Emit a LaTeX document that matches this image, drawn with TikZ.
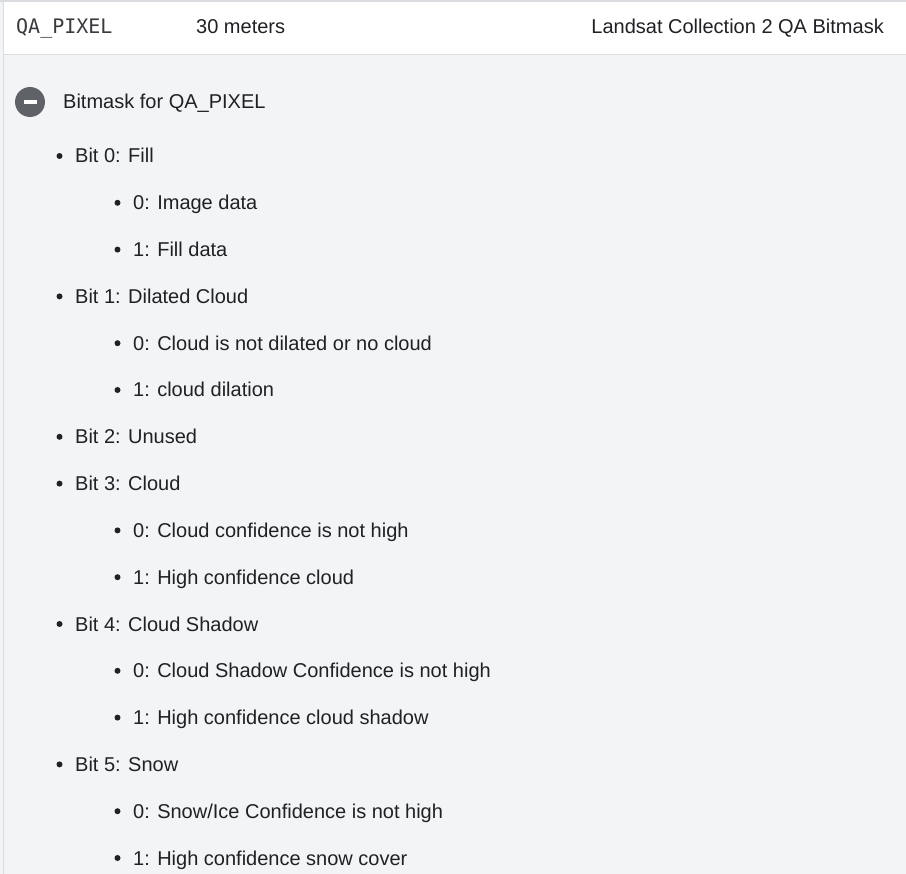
\documentclass[tikz,border=0pt]{standalone}
\usepackage{fontspec}
\setmainfont{Liberation Sans}
\setmonofont{DejaVu Sans Mono}
\definecolor{txt}{HTML}{202124}
\definecolor{panel}{HTML}{F3F4F6}
\definecolor{rule}{HTML}{DADCE0}
\definecolor{icon}{HTML}{5F6368}
\tikzset{
  item/.style={anchor=base west,inner sep=0pt,text=txt,font=\fontsize{20}{24}\selectfont},
  dot/.style={fill=txt}
}
\begin{document}
\begin{tikzpicture}[x=1pt,y=-1pt]
			\useasboundingbox (0,0) rectangle (906,874);
			\def\d{46.8}
			\fill[panel] (0,0) rectangle (906,874);
			\fill[white] (3,1) rectangle (906,54);
			\draw[rule,line width=1.5pt] (0,1)--(906,1);
			\draw[rule] (3,54)--(906,54) (3,0)--(3,874);
			% header row
			\node[item,text=icon!60!black,font=\ttfamily\fontsize{20}{24}\selectfont] (band) at (16,34) {QA\_PIXEL};
			\node[item] (res) at (196,34) {30 meters};
			\node[item,anchor=base east] (desc) at (884,34) {Landsat Collection 2 QA Bitmask};
			% toggle
			\fill[icon] (30,102) coordinate (tog) circle (15);
			\fill[white] (tog)++(-6.5,-1.6) rectangle ++(13,3.2);
			\node[item] (head) at (63,109) {Bitmask for QA\_PIXEL};
			% bits
			\foreach \i/\x/\t in {0/75/{Bit 0: Fill},1/133/{0: Image data},2/133/{1: Fill data},
				3/75/{Bit 1: Dilated Cloud},4/133/{0: Cloud is not dilated or no cloud},5/133/{1: cloud dilation},
				6/75/{Bit 2: Unused},7/75/{Bit 3: Cloud},8/133/{0: Cloud confidence is not high},9/133/{1: High confidence cloud},
				10/75/{Bit 4: Cloud Shadow},11/133/{0: Cloud Shadow Confidence is not high},12/133/{1: High confidence cloud shadow},
				13/75/{Bit 5: Snow},14/133/{0: Snow/Ice Confidence is not high},15/133/{1: High confidence snow cover}}
			\node[item] (b\i) at (\x,163+\i*\d) {\t}
			(b\i.base west)++(-15.5,-7) node[dot,circle,inner sep=0pt,minimum size=6pt] (d\i) {};
\end{tikzpicture}
\end{document}
